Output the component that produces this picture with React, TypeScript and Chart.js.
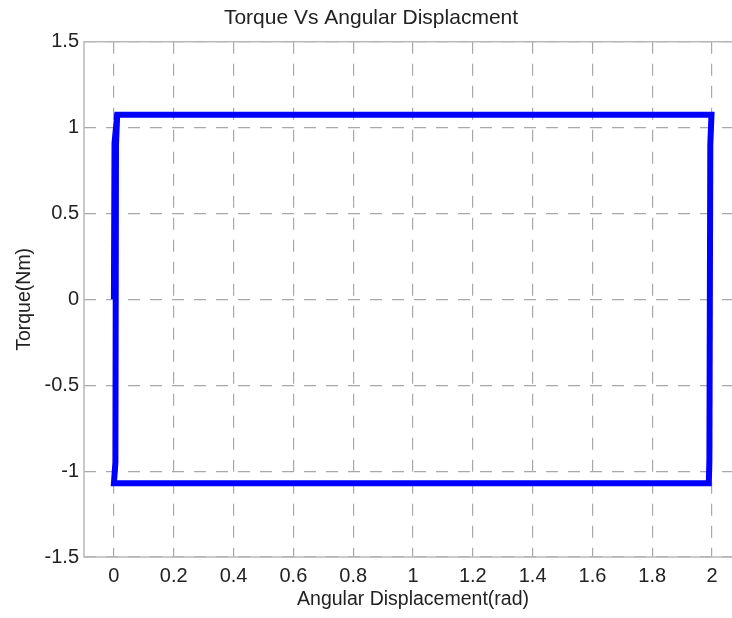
import React, { useEffect, useRef } from "react";
import { Chart, registerables } from "chart.js";

Chart.register(...registerables);

const titleText = "Torque Vs Angular Displacment";
const xAxisTitle = "Angular Displacement(rad)";
const yAxisTitle = "Torque(Nm)";

const xTickValues = [0, 0.2, 0.4, 0.6, 0.8, 1, 1.2, 1.4, 1.6, 1.8, 2];
const xTickLabels = ["0", "0.2", "0.4", "0.6", "0.8", "1", "1.2", "1.4", "1.6", "1.8", "2"];
const yTickValues = [-1.5, -1, -0.5, 0, 0.5, 1, 1.5];
const yTickLabels = ["-1.5", "-1", "-0.5", "0", "0.5", "1", "1.5"];

// Hysteresis loop path (angular displacement in rad, torque in Nm)
const displacement = [0, 0.002, 0.011, 1.998, 1.994, 1.991, 1.989, 0.0, 0.005, 0.007, 0.011];
const torque = [0, 0.91, 1.075, 1.075, 0.9, -0.93, -1.07, -1.07, -0.95, 0.9, 1.075];

const FONT = "'Liberation Sans', Arial, Helvetica, sans-serif";
const TEXT_COLOR = "#222222";
const GRID_COLOR = "#a8a8a8";

const framePlugin = {
  id: "frame",
  beforeDatasetsDraw(chart: any) {
    const { ctx, chartArea } = chart;
    const { left, top, right, bottom } = chartArea;
    ctx.save();
    ctx.strokeStyle = "#b8b8b8";
    ctx.lineWidth = 1.5;
    ctx.setLineDash([]);
    ctx.strokeRect(left, top, right - left, bottom - top);
    ctx.restore();
  },
};

export default function App() {
  const canvasRef = useRef<HTMLCanvasElement | null>(null);

  useEffect(() => {
    const canvas = canvasRef.current;
    if (!canvas) return;
    const points = displacement.map((x, i) => ({ x, y: torque[i] }));
    const chart = new Chart(canvas, {
      type: "scatter",
      data: {
        datasets: [
          {
            data: points,
            showLine: true,
            borderColor: "#0000ff",
            backgroundColor: "#0000ff",
            borderWidth: 6,
            pointRadius: 0,
            pointHoverRadius: 0,
            tension: 0,
            borderJoinStyle: "miter",
            fill: false,
          } as any,
        ],
      },
      options: {
        animation: false,
        responsive: false,
        devicePixelRatio: 1,
        events: [],
        layout: { padding: { left: 0, right: 80, top: 0, bottom: 0 } },
        plugins: {
          legend: { display: false },
          tooltip: { enabled: false },
          title: {
            display: true,
            text: titleText,
            color: TEXT_COLOR,
            font: { family: FONT, size: 21, weight: "normal", lineHeight: 1.2 },
            padding: { top: 6, bottom: 10.5 },
          },
        },
        scales: {
          x: {
            type: "linear",
            min: -0.1,
            max: 2.1,
            afterBuildTicks: (scale: any) => {
              scale.ticks = xTickValues.map((v) => ({ value: v }));
            },
            afterFit: (scale: any) => {
              scale.height = 61;
            },
            ticks: {
              color: TEXT_COLOR,
              font: { family: FONT, size: 20 },
              padding: 7,
              maxRotation: 0,
              autoSkip: false,
              callback: (value: any) => {
                const i = xTickValues.indexOf(Number(value));
                return i >= 0 ? xTickLabels[i] : "";
              },
            },
            grid: {
              color: GRID_COLOR,
              lineWidth: 1.2,
              drawTicks: false,
            },
            border: { display: false, dash: [12, 10] },
            title: {
              display: true,
              text: xAxisTitle,
              color: TEXT_COLOR,
              font: { family: FONT, size: 19.5, lineHeight: 1.2 },
              padding: { top: 0, bottom: 7 },
            },
          },
          y: {
            type: "linear",
            min: -1.5,
            max: 1.5,
            afterBuildTicks: (scale: any) => {
              scale.ticks = yTickValues.map((v) => ({ value: v }));
            },
            afterFit: (scale: any) => {
              scale.width = 84;
            },
            ticks: {
              color: TEXT_COLOR,
              font: { family: FONT, size: 20 },
              padding: 5,
              autoSkip: false,
              callback: (value: any) => {
                const i = yTickValues.indexOf(Number(value));
                return i >= 0 ? yTickLabels[i] : "";
              },
            },
            grid: {
              color: GRID_COLOR,
              lineWidth: 1.2,
              drawTicks: false,
            },
            border: { display: false, dash: [12, 10] },
            title: {
              display: true,
              text: yAxisTitle,
              color: TEXT_COLOR,
              font: { family: FONT, size: 19.5, lineHeight: 1.2 },
              padding: { top: 13, bottom: 0 },
            },
          },
        },
      },
      plugins: [framePlugin],
    } as any);
    return () => chart.destroy();
  }, []);

  return (
    <div
      style={{
        position: "fixed",
        left: 0,
        top: 0,
        width: 732,
        height: 618,
        overflow: "hidden",
        background: "#ffffff",
      }}
    >
      <canvas ref={canvasRef} width={822} height={618} style={{ display: "block" }} />
    </div>
  );
}
